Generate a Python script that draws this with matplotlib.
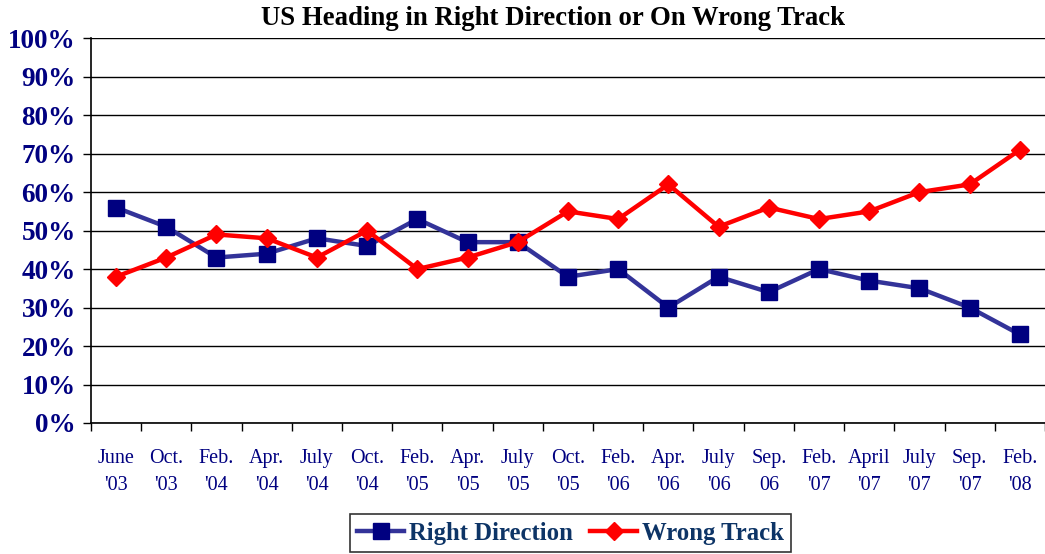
import matplotlib
matplotlib.use("Agg")
import matplotlib.pyplot as plt
from matplotlib.ticker import FixedLocator, PercentFormatter

categories = ["June\n'03", "Oct.\n'03", "Feb.\n'04", "Apr.\n'04", "July\n'04", "Oct.\n'04",
              "Feb.\n'05", "Apr.\n'05", "July\n'05", "Oct.\n'05", "Feb.\n'06", "Apr.\n'06",
              "July\n'06", "Sep.\n06", "Feb.\n'07", "April\n'07", "July\n'07", "Sep.\n'07", "Feb.\n'08"]
right_direction = [56, 51, 43, 44, 48, 46, 53, 47, 47, 38, 40, 30, 38, 34, 40, 37, 35, 30, 23]
wrong_track = [38, 43, 49, 48, 43, 50, 40, 43, 47, 55, 53, 62, 51, 56, 53, 55, 60, 62, 71]
yticks = [0, 10, 20, 30, 40, 50, 60, 70, 80, 90, 100]

plt.rcParams['font.family'] = ['Liberation Serif', 'DejaVu Serif']

fig = plt.figure(figsize=(10.45, 5.54), dpi=100)
ax = fig.add_axes([0.087, 0.2365, 0.913, 0.6945])

x = list(range(len(categories)))
ax.plot(x, right_direction, color='#333399', lw=3.2, marker='s', markersize=12,
        markerfacecolor='#000080', markeredgecolor='#000080', label='Right Direction', zorder=3)
ax.plot(x, wrong_track, color='#ff0000', lw=3.2, marker='D', markersize=9,
        markerfacecolor='#ff0000', markeredgecolor='#ff0000', label='Wrong Track', zorder=4)

ax.set_xlim(-0.5, len(categories) - 0.5)
ax.set_ylim(0, 100)
ax.set_yticks(yticks)
ax.yaxis.set_major_formatter(PercentFormatter(decimals=0))
ax.yaxis.grid(True, color='black', lw=1.0)
ax.set_axisbelow(True)

ax.set_xticks(x)
ax.set_xticklabels(categories, fontsize=14.5, color='#000080', linespacing=1.55)
ax.xaxis.set_minor_locator(FixedLocator([i - 0.5 for i in range(len(categories) + 1)]))
ax.tick_params(axis='x', which='major', length=0, pad=19)
ax.tick_params(axis='x', which='minor', length=6, width=1, color='black', direction='out')
ax.tick_params(axis='y', length=6, width=1, direction='out', pad=5)
for lbl in ax.get_yticklabels():
    lbl.set_fontsize(19.5)
    lbl.set_fontweight('bold')
    lbl.set_color('#000080')

for s in ['top', 'right']:
    ax.spines[s].set_visible(False)
ax.spines['left'].set_linewidth(1.2)
ax.spines['bottom'].set_linewidth(1.2)

fig.text(0.529, 0.966, 'US Heading in Right Direction or On Wrong Track', ha='center', va='center',
         fontsize=19.3, fontweight='bold', color='black')

leg = fig.legend(loc='upper center', bbox_to_anchor=(0.546, 0.072), ncol=2, frameon=True, fancybox=False,
                 edgecolor='black', handlelength=1.9, handletextpad=0.2, columnspacing=0.7,
                 borderpad=0.3, borderaxespad=0.0, prop={'size': 17.8, 'weight': 'bold'})
leg.get_frame().set_linewidth(1.2)
for t in leg.get_texts():
    t.set_color('#0d3466')

fig.savefig('out.png', dpi=100)
